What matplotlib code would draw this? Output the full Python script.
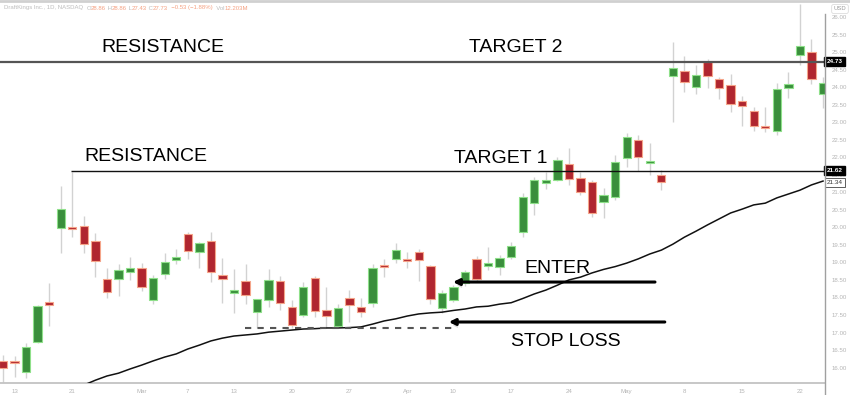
import numpy as np
import matplotlib.pyplot as plt
import matplotlib.patheffects as pe
from matplotlib.lines import Line2D

plt.rcParams['font.family'] = ['Liberation Sans', 'DejaVu Sans']

# daily candles (open, high, low, close)
opens = [16.19, 16.14, 15.87, 16.73, 17.87, 19.98, 20.00, 20.04, 19.61, 18.52,
         18.52, 18.72, 18.84, 17.93, 18.67, 19.07, 19.81, 19.30, 19.61, 18.64,
         18.13, 18.47, 17.58, 17.93, 18.47, 17.73, 17.50, 18.55, 17.64, 17.18,
         17.98, 17.73, 17.84, 18.92, 19.10, 19.10, 19.30, 18.90, 17.70, 17.93,
         18.41, 19.10, 18.90, 18.87, 19.15, 19.87, 20.69, 21.26, 21.35, 21.81,
         21.41, 21.29, 20.72, 20.86, 21.98, 22.49, 21.83, 21.49, 24.32, 24.46,
         24.00, 24.72, 24.23, 24.06, 23.60, 23.32, 22.89, 22.75, 23.97, 24.92,
         25.00, 23.80]
highs = [16.36, 16.33, 16.70, 17.78, 18.41, 21.18, 21.58, 20.32, 19.84, 18.84,
         18.95, 19.15, 18.98, 18.64, 19.27, 19.38, 19.87, 19.57, 19.87, 19.12,
         18.81, 18.95, 17.96, 18.81, 18.61, 17.93, 18.44, 18.61, 18.30, 17.81,
         18.21, 17.98, 18.95, 19.10, 19.55, 19.30, 19.38, 18.92, 18.21, 18.35,
         18.78, 19.18, 19.44, 19.21, 19.58, 20.98, 21.44, 21.58, 22.01, 22.26,
         21.58, 21.35, 21.12, 22.06, 22.69, 22.63, 22.41, 21.63, 25.29, 24.89,
         24.63, 24.80, 24.29, 24.37, 23.75, 23.43, 23.43, 24.12, 24.43, 26.37,
         25.37, 24.29]
lows = [15.59, 15.73, 15.70, 16.70, 17.18, 19.27, 19.72, 19.27, 18.58, 17.98,
        18.04, 18.50, 18.18, 17.81, 18.52, 18.95, 19.10, 18.84, 18.44, 17.84,
        17.55, 17.81, 17.13, 17.73, 17.64, 17.13, 17.44, 17.44, 17.13, 17.16,
        17.30, 17.44, 17.73, 18.58, 18.98, 18.84, 18.47, 17.81, 17.55, 17.87,
        18.33, 18.47, 18.78, 18.64, 19.10, 19.72, 20.35, 21.09, 21.32, 21.21,
        20.92, 20.29, 20.27, 20.78, 21.72, 21.61, 21.49, 21.06, 23.00, 23.86,
        23.80, 23.97, 23.66, 23.29, 22.89, 22.75, 22.72, 22.63, 23.69, 24.63,
        24.09, 23.40]
closes = [15.99, 16.12, 16.58, 17.75, 17.79, 20.52, 19.94, 19.52, 19.04, 18.15,
          18.78, 18.84, 18.30, 18.55, 19.01, 19.15, 19.32, 19.55, 18.72, 18.52,
          18.21, 18.07, 17.95, 18.50, 17.84, 17.21, 18.30, 17.61, 17.47, 17.70,
          17.78, 17.58, 18.84, 18.87, 19.35, 19.04, 19.07, 17.95, 18.13, 18.30,
          18.72, 18.52, 18.98, 19.12, 19.47, 20.86, 21.35, 21.35, 21.92, 21.38,
          21.01, 20.41, 20.92, 21.86, 22.58, 22.01, 21.89, 21.29, 24.54, 24.15,
          24.35, 24.32, 23.97, 23.52, 23.46, 22.89, 22.83, 23.95, 24.09, 25.17,
          24.23, 24.12]
# moving average, shown from the 7th candle
ma = [np.nan] * 6 + [15.41, 15.50, 15.64, 15.76, 15.84, 15.96, 16.07, 16.19, 16.30,
      16.39, 16.53, 16.64, 16.76, 16.84, 16.90, 16.93, 16.96, 17.01, 17.04,
      17.07, 17.10, 17.11, 17.13, 17.13, 17.14, 17.16, 17.24, 17.33, 17.39,
      17.47, 17.53, 17.56, 17.58, 17.63, 17.67, 17.73, 17.75, 17.81, 17.85,
      17.97, 18.10, 18.21, 18.35, 18.50, 18.58, 18.70, 18.80, 18.88, 18.98,
      19.10, 19.24, 19.35, 19.52, 19.72, 19.89, 20.07, 20.24, 20.41, 20.52,
      20.64, 20.69, 20.84, 20.95, 21.06, 21.21, 21.32]

date_pos = [1, 6, 12, 16, 20, 25, 30, 35, 39, 44, 49, 54, 59, 64, 69]
date_labels = ['13', '21', 'Mar', '7', '13', '20', '27', 'Apr', '10', '17',
               '24', 'May', '8', '15', '22']

resistance_hi = 24.73
resistance_lo = 21.62
ma_last = 21.34
stop_level = 17.12
enter_level = 18.44
stop_arrow_level = 17.30

o = np.array(opens); h = np.array(highs); l = np.array(lows); c = np.array(closes)
x = np.arange(len(o))
up = c >= o

fig = plt.figure(figsize=(8.5, 3.95), dpi=100)
ax = fig.add_axes([0, 12 / 395, 825 / 850, 382 / 395])

ax.vlines(x, l, h, color='#d2d2d2', lw=1, zorder=1)
body_lo = np.minimum(o, c)
body_h = np.maximum(np.abs(c - o), 0.06)
ax.bar(x[up], body_h[up], bottom=body_lo[up], width=0.72,
       color='#3a8f3c', edgecolor='#8fe08a', lw=0.8, zorder=2)
ax.bar(x[~up], body_h[~up], bottom=body_lo[~up], width=0.72,
       color='#b0262f', edgecolor='#f5a58a', lw=0.8, zorder=2)

ax.plot(x, ma, color='#111111', lw=1.1, zorder=3)

ax.axhline(resistance_hi, color='#555555', lw=1.6, zorder=3)
ax.hlines(resistance_lo, 5.9, 72, color='#111111', lw=1.0, zorder=3)
ax.hlines(stop_level, 20.95, 38.96, color='#555555', lw=1.5, linestyles=(0, (3, 3)), zorder=3)

shadow = [pe.SimplePatchShadow(offset=(0.5, -2.5), shadow_rgbFace='#999999', alpha=0.35), pe.Normal()]
for lvl, x0, x1 in [(enter_level, 56.45, 38.96), (stop_arrow_level, 57.3, 38.6)]:
    ax.annotate('', xy=(x1, lvl), xytext=(x0, lvl),
                arrowprops=dict(arrowstyle='-|>', lw=2.2, color='black', mutation_scale=9,
                                shrinkA=0, shrinkB=0, path_effects=shadow), zorder=4)

labels = [('RESISTANCE', 13.8, 25.12), ('TARGET 2', 44.4, 25.12),
          ('RESISTANCE', 12.4, 22.03), ('TARGET 1', 43.1, 21.95),
          ('ENTER', 48.0, 18.84), ('STOP LOSS', 48.7, 16.73)]
for s, tx, ty in labels:
    ax.text(tx, ty, s, fontsize=14, color='black', ha='center', va='center', zorder=5)

ax.set_xlim(-0.26, 71.17)
ax.set_ylim(15.56, 26.456)
ax.set_xticks(date_pos)
ax.set_xticklabels(date_labels)
ax.yaxis.tick_right()
yt = np.arange(16, 26.01, 0.5)
ax.set_yticks(yt)
ax.set_yticklabels([f'{v:.2f}' for v in yt])
ax.tick_params(axis='both', length=0, labelsize=4.4, labelcolor='#b5b5b5')
ax.tick_params(axis='x', pad=4)
ax.tick_params(axis='y', pad=5)
for sp in ['top', 'left', 'right']:
    ax.spines[sp].set_visible(False)
ax.spines['bottom'].set_color('#bdbdbd')
ax.spines['bottom'].set_linewidth(1.2)

yax = ax.get_yaxis_transform()
ax.text(1.002, resistance_hi, f'{resistance_hi:.2f}', transform=yax, ha='left', va='center',
        fontsize=4.6, color='white', fontweight='bold',
        bbox=dict(boxstyle='square,pad=0.35', fc='black', ec='black'), zorder=6, clip_on=False)
ax.text(1.002, resistance_lo, f'{resistance_lo:.2f}', transform=yax, ha='left', va='center',
        fontsize=4.6, color='white', fontweight='bold',
        bbox=dict(boxstyle='square,pad=0.35', fc='black', ec='black'), zorder=6, clip_on=False)
ax.text(1.002, ma_last - 0.05, f'{ma_last:.2f}', transform=yax, ha='left', va='center',
        fontsize=4.6, color='#333333',
        bbox=dict(boxstyle='square,pad=0.3', fc='white', ec='#444444', lw=0.6), zorder=6, clip_on=False)

# frame lines
fig.add_artist(Line2D([825 / 850, 825 / 850], [0, 1 - 14 / 395], color='#a0a0a0', lw=1))
fig.add_artist(Line2D([0, 1], [1 - 1 / 395, 1 - 1 / 395], color='#d0d0d0', lw=2))
fig.text(840 / 850, 1 - 9 / 395, 'USD', fontsize=4.2, color='#999999', ha='center', va='center',
         bbox=dict(boxstyle='round,pad=0.35', fc='white', ec='#dddddd', lw=0.6))

# header legend
gray, orange = '#bdbdbd', '#f5a182'
parts = [('DraftKings Inc., 1D, NASDAQ  ', gray), ('O', gray), ('28.86', orange), (' H', gray),
         ('28.86', orange), (' L', gray), ('27.43', orange), (' C', gray), ('27.73', orange),
         ('  \u22120.53 (\u22121.88%)', orange), ('  Vol', gray), ('12.203M', orange)]
r = fig.canvas.get_renderer()
xpos = 4 / 850
for s, col in parts:
    t = fig.text(xpos, 1 - 8 / 395, s, fontsize=4.3, color=col, ha='left', va='center')
    bb = t.get_window_extent(r)
    xpos += bb.width / fig.bbox.width

fig.savefig('out.png', dpi=100)
